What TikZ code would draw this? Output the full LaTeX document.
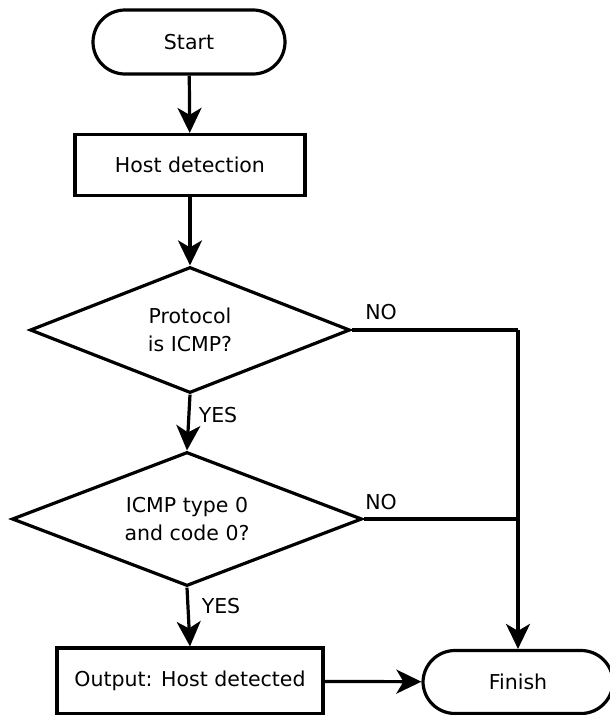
\documentclass[tikz,border=0pt]{standalone}
\usepackage{fontspec}
\setmainfont{DejaVu Sans}
\usetikzlibrary{shapes.geometric,arrows.meta}
\begin{document}
\begin{tikzpicture}[x=1pt,y=-1pt,
  every node/.style={font=\fontsize{20.5}{28}\selectfont},
  base/.style={draw,line width=3.2pt,inner sep=0pt,align=center},
  terminal/.style={base,rectangle,rounded corners=32pt,minimum width=192pt,minimum height=64pt},
  process/.style={base,rectangle},
  decision/.style={base,diamond},
  flow/.style={line width=3.2pt,-{Stealth[length=25pt,width=24pt,inset=7pt]}},
  plain/.style={line width=3.2pt},
  tag/.style={inner sep=0pt}]
\useasboundingbox (0,0) rectangle (610,715);

% boxes
\node[terminal] (start) at (189,42) {Start};
\node[process,minimum width=230pt,minimum height=61pt] (host) at (190,165) {Host detection};
\node[decision,aspect=2.54,minimum width=320pt,minimum height=126pt] (d1) at (190,330) {Protocol\\is ICMP?};
\node[decision,aspect=2.61,minimum width=350pt,minimum height=134pt] (d2) at (187,519) {ICMP type 0\\and code 0?};
\node[process,minimum width=266pt,minimum height=66pt] (out) at (190,681) {Output: Host detected};
\node[terminal,minimum width=190pt,minimum height=63pt] (finish) at (518,682) {Finish};

% junctions on the right-hand return line
\coordinate (j1) at (518,330);
\coordinate (j2) at (518,519);

% connectors
\draw[flow] (start) -- (host);
\draw[flow] (host) -- (host |- d1.north);
\draw[flow] (d1.south) -- (d2.north);
\draw[flow] (d2.south) -- (out.north);
\draw[flow] (out) -- (finish);
\draw[plain] (d1.east) -- (j1);
\draw[flow] (j1) -- (finish.north);
\draw[plain] (d2.east) -- (j2);

% branch labels
\node[tag] (no1) at (381,312) {NO};
\node[tag] (yes1) at (218,415) {YES};
\node[tag] (no2) at (381,502) {NO};
\node[tag] (yes2) at (221,606) {YES};
\end{tikzpicture}
\end{document}
